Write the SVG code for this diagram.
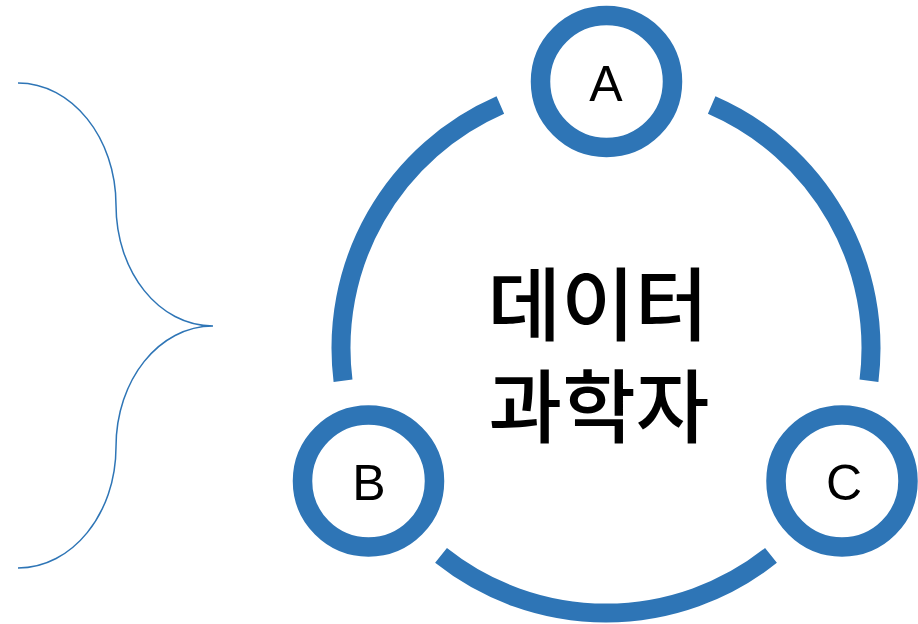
<svg xmlns="http://www.w3.org/2000/svg" width="918" height="624" viewBox="0 0 918 624">
  <style>
    .arc { fill: none; stroke: #2E75B6; stroke-width: 19; stroke-linecap: butt; }
    .node { fill: #FFFFFF; stroke: #2E75B6; stroke-width: 19.5; }
    .lbl { font-family: "Liberation Sans", Arial, sans-serif; font-size: 50px; fill: #000000; text-anchor: middle; }
    .title { font-family: "Noto Sans CJK KR", "Noto Sans", sans-serif; font-size: 80px; font-weight: 500; fill: #000000; text-anchor: middle; }
    .brace { fill: none; stroke: #2E75B6; stroke-width: 1.5; }
  </style>
  <rect width="918" height="624" fill="#FFFFFF"/>
  <g id="brace">
    <path class="brace" d="M 18 83 C 72 83 116 138 116 205 C 116 272 159 326 213 326 C 159 326 116 380 116 447 C 116 514 72 568 18 568"/>
  </g>
  <g id="connectors">
    <path class="arc" d="M 343.03 380.75 A 265 265 0 0 1 500.33 104.98"/>
    <path class="arc" d="M 711.67 104.98 A 265 265 0 0 1 868.97 380.75"/>
    <path class="arc" d="M 770.97 555.39 A 265 265 0 0 1 441.03 555.39"/>
  </g>
  <g id="center">
    <text class="title"><tspan x="598" y="334">데이터</tspan><tspan x="599" y="436">과학자</tspan></text>
  </g>
  <g id="node-A">
    <circle class="node" cx="606.5" cy="81.5" r="66"/>
    <text class="lbl" x="606" y="100.5">A</text>
  </g>
  <g id="node-B">
    <circle class="node" cx="368.5" cy="481" r="66"/>
    <text class="lbl" x="369" y="499.5">B</text>
  </g>
  <g id="node-C">
    <circle class="node" cx="842" cy="481" r="66"/>
    <text class="lbl" x="844" y="500">C</text>
  </g>
</svg>
